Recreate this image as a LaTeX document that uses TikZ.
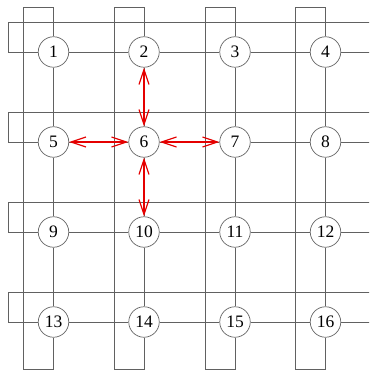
\documentclass[tikz,border=0pt]{standalone}
\usepackage{fontspec}
\setmainfont{Liberation Serif}
\usetikzlibrary{arrows.meta}
\tikzset{
  pe/.style={circle, draw=black!60, line width=0.7pt, fill=white, minimum size=30.5pt, inner sep=0pt, font=\fontsize{17.5}{18}\selectfont},
  wire/.style={draw=black!62, line width=0.7pt},
  route/.style={draw=red!90!black, line width=1.2pt, {Straight Barb[length=15pt,width=10pt]}-{Straight Barb[length=15pt,width=10pt]}}
}
\begin{document}
\begin{tikzpicture}[x=1pt,y=-1pt]
\useasboundingbox (0,0) rectangle (369,371);
\clip (0,0) rectangle (369,371);
% nodes
\foreach \r [count=\ri from 0] in {52,142,232,322}{
  \foreach \c [count=\ci from 0] in {53.5,144,235,325.5}{
    \pgfmathtruncatemacro{\k}{\ri*4+\ci+1}
    \node[pe] (n\k) at (\c,\r) {\k};
  }
}
% columns
\foreach \a/\b/\c/\d/\X in {1/5/9/13/53.5, 2/6/10/14/144, 3/7/11/15/235, 4/8/12/16/325.5}{
  \path[wire] (n\a) -- (n\b) -- (n\c) -- (n\d);
  \coordinate (t\a) at (\X,7);
  \coordinate (l\a) at ({\X-30},7);
  \coordinate (b\a) at ({\X-30},369);
  \coordinate (u\a) at (\X,369);
  \path[wire] (n\a.north) -- (t\a) -- (l\a) -- (b\a) -- (u\a) -- (n\d.south);
}
% rows
\foreach \a/\b/\c/\d/\Y in {1/2/3/4/52, 5/6/7/8/142, 9/10/11/12/232, 13/14/15/16/322}{
  \coordinate (e\a) at (375,\Y);
  \coordinate (p\a) at (8,\Y);
  \coordinate (q\a) at (8,{\Y-30});
  \coordinate (f\a) at (375,{\Y-30});
  \path[wire] (n\a) -- (n\b) -- (n\c) -- (n\d);
  \path[wire] (n\d.east) -- (e\a);
  \path[wire] (n\a.west) -- (p\a) -- (q\a) -- (f\a);
}
% routes
\draw[route] (n6) -- (n2);
\draw[route] (n6) -- (n5);
\draw[route] (n6) -- (n7);
\draw[route] (n6) -- (n10);
\end{tikzpicture}
\end{document}
